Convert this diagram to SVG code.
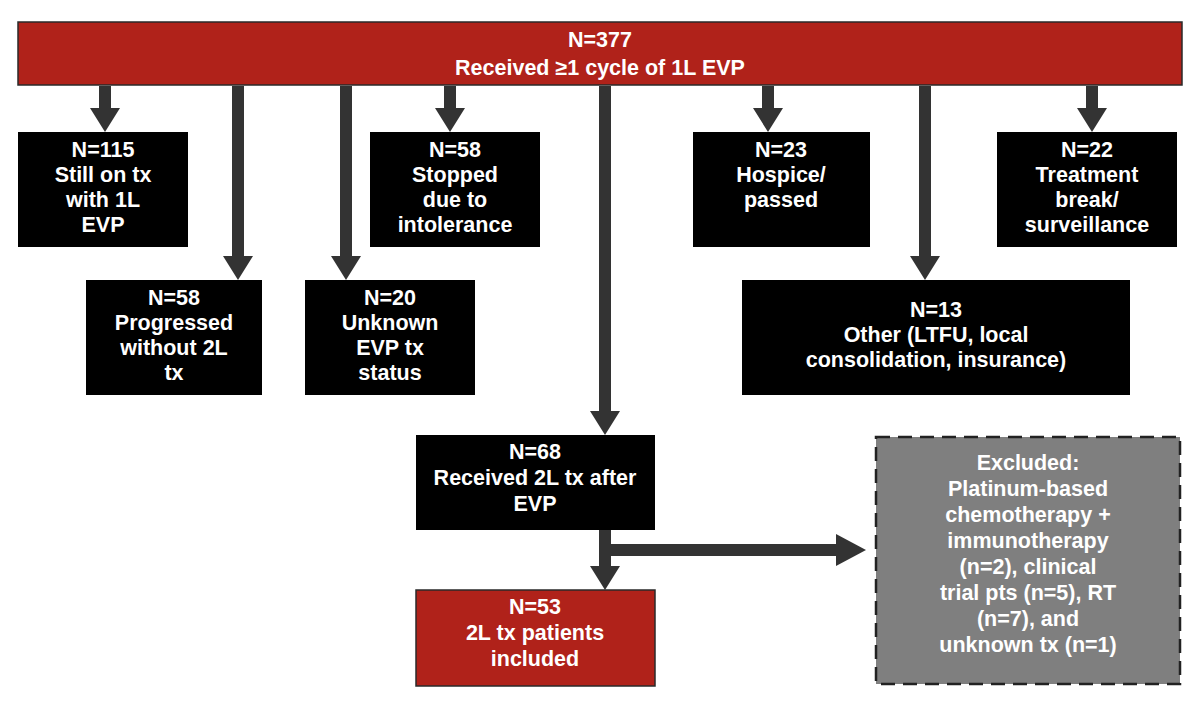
<svg xmlns="http://www.w3.org/2000/svg" width="1200" height="709" viewBox="0 0 1200 709">
<style>
text{font-family:"Liberation Sans",Arial,sans-serif;font-weight:bold;font-size:21.5px;fill:#fff;text-anchor:middle}
.red{fill:#b0221a;stroke:#2a2a2a;stroke-width:1.5}
.blk{fill:#000}
.gry{fill:#7f7f7f;stroke:#222;stroke-width:2.5;stroke-dasharray:14 8}
.sh{stroke:#333;stroke-width:12;fill:none}
.hd{fill:#333}
</style>
<rect width="1200" height="709" fill="#fff"/>
<g id="connectors">
<path class="sh" d="M105 86V110M238 86V258M346 86V258M450 86V110M605 86V413M768 86V110M925 86V258M1092 86V110M605 530V568M605 550H838"/>
<path class="hd" d="M90 108H120L105 132ZM223 256H253L238 280ZM331 256H361L346 280ZM435 108H465L450 132ZM590 411H620L605 435ZM753 108H783L768 132ZM910 256H940L925 280ZM1077 108H1107L1092 132ZM590 566H620L605 590ZM836 534V566L866 550Z"/>
</g>
<g id="top"><rect class="red" x="18" y="22" width="1164" height="63"/><text x="600" y="47">N=377</text><text x="600" y="75">Received ≥1 cycle of 1L EVP</text></g>
<g id="n115"><rect class="blk" x="18" y="132" width="170" height="115"/><text x="103" y="157">N=115</text><text x="103" y="182">Still on tx</text><text x="103" y="207">with 1L</text><text x="103" y="232">EVP</text></g>
<g id="n58p"><rect class="blk" x="86" y="280" width="176" height="115"/><text x="174" y="305">N=58</text><text x="174" y="330">Progressed</text><text x="174" y="355">without 2L</text><text x="174" y="380">tx</text></g>
<g id="n20"><rect class="blk" x="305" y="280" width="170" height="115"/><text x="390" y="305">N=20</text><text x="390" y="330">Unknown</text><text x="390" y="355">EVP tx</text><text x="390" y="380">status</text></g>
<g id="n58s"><rect class="blk" x="370" y="132" width="170" height="115"/><text x="455" y="157">N=58</text><text x="455" y="182">Stopped</text><text x="455" y="207">due to</text><text x="455" y="232">intolerance</text></g>
<g id="n23"><rect class="blk" x="693" y="132" width="177" height="115"/><text x="781" y="157">N=23</text><text x="781" y="182">Hospice/</text><text x="781" y="207">passed</text></g>
<g id="n22"><rect class="blk" x="997" y="132" width="180" height="115"/><text x="1087" y="157">N=22</text><text x="1087" y="182">Treatment</text><text x="1087" y="207">break/</text><text x="1087" y="232">surveillance</text></g>
<g id="n13"><rect class="blk" x="742" y="280" width="388" height="115"/><text x="936" y="317">N=13</text><text x="936" y="342">Other (LTFU, local</text><text x="936" y="367">consolidation, insurance)</text></g>
<g id="n68"><rect class="blk" x="416" y="435" width="239" height="95"/><text x="535" y="459">N=68</text><text x="535" y="485">Received 2L tx after</text><text x="535" y="511">EVP</text></g>
<g id="n53"><rect class="red" x="416" y="590" width="239" height="96"/><text x="535" y="614">N=53</text><text x="535" y="640">2L tx patients</text><text x="535" y="666">included</text></g>
<g id="excl"><rect class="gry" x="876" y="437" width="304" height="247"/><text x="1028" y="470">Excluded:</text><text x="1028" y="496">Platinum-based</text><text x="1028" y="522">chemotherapy +</text><text x="1028" y="548">immunotherapy</text><text x="1028" y="574">(n=2), clinical</text><text x="1028" y="600">trial pts (n=5), RT</text><text x="1028" y="626">(n=7), and</text><text x="1028" y="652">unknown tx (n=1)</text></g>
</svg>
